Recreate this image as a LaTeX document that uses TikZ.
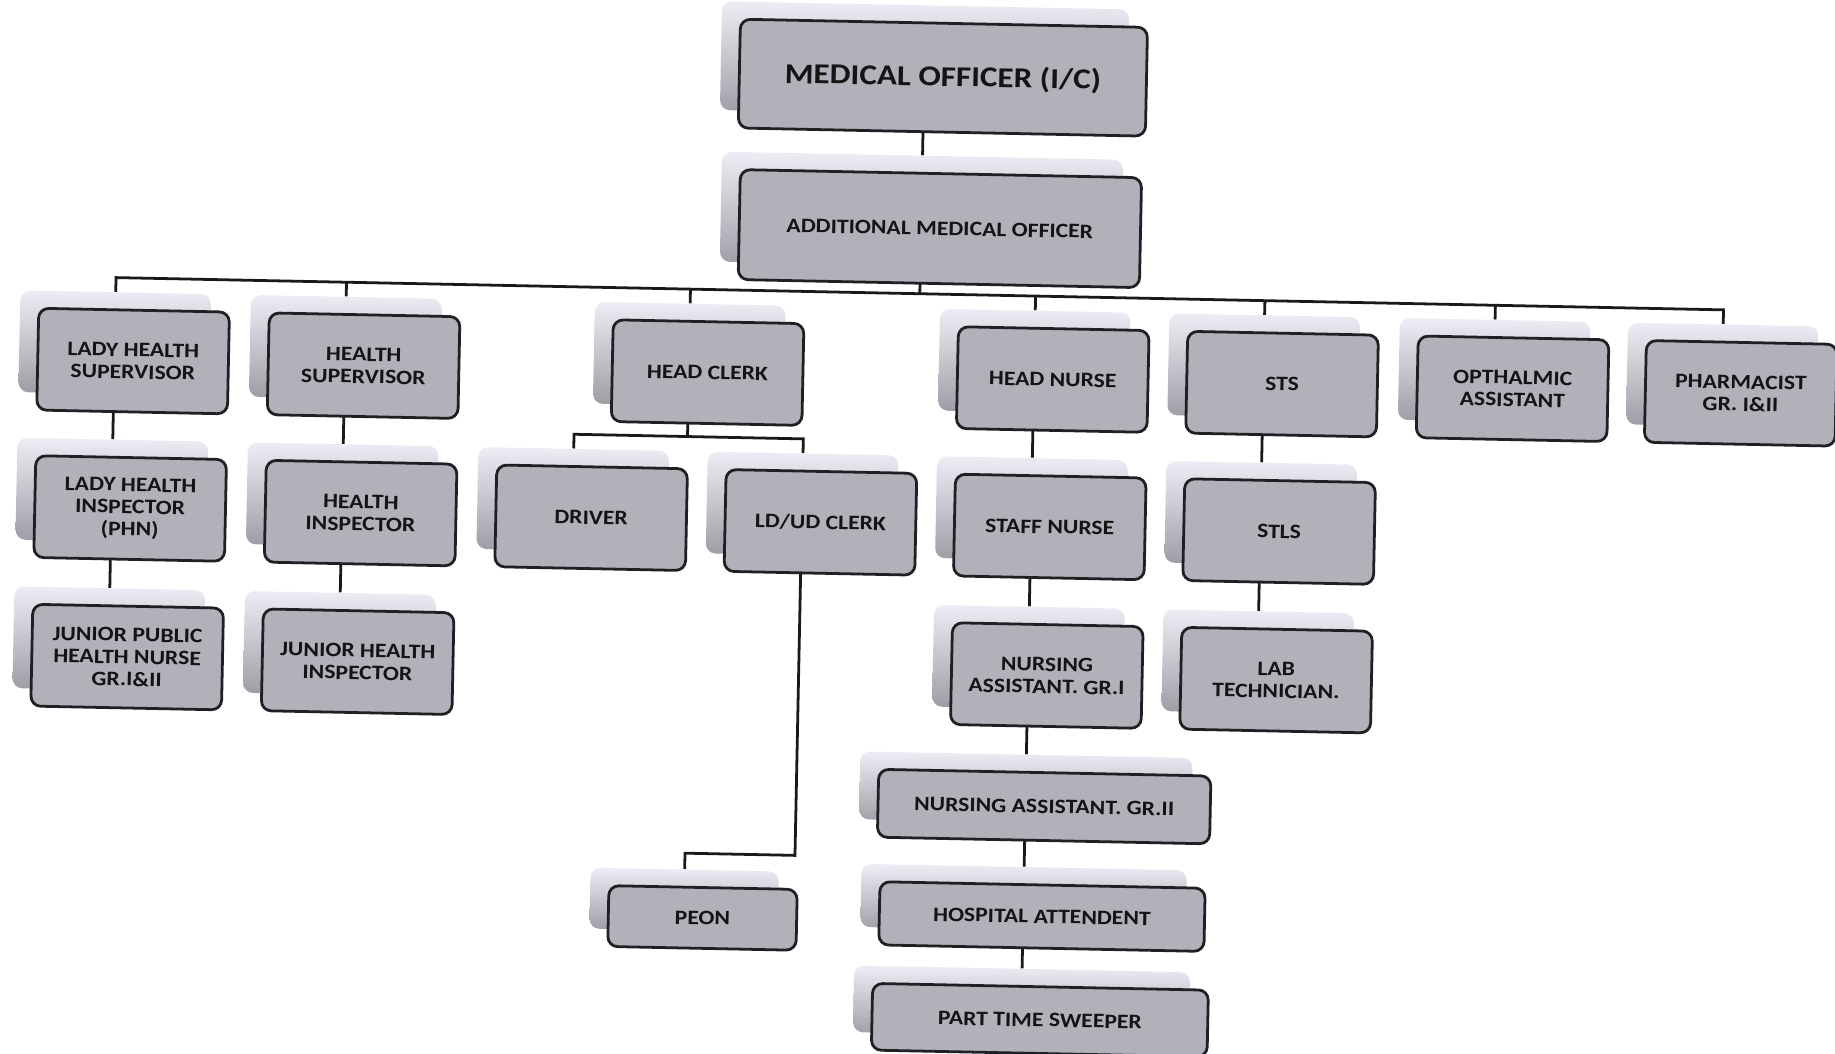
\documentclass[tikz,border=0pt]{standalone}
\usepackage{fontspec}
\setmainfont{Carlito}[FakeStretch=1.15]
\usepackage{tikz}
\usetikzlibrary{calc,backgrounds}

\definecolor{boxgray}{RGB}{178,177,186}
\definecolor{shadetop}{RGB}{238,236,244}
\definecolor{shadebot}{RGB}{156,155,164}
\definecolor{edgegray}{RGB}{32,32,36}

\begin{document}
\begin{tikzpicture}[x=0.02cm,y=-0.02cm]
  \tikzstyle{post}=[draw=edgegray,line width=1.35pt,fill=boxgray,rounded corners=1.7mm,
    minimum width=3.26cm,minimum height=1.74cm,inner sep=0pt,align=center,
    font=\fontsize{10}{10.8}\selectfont\bfseries,text=black!92]
  \tikzstyle{postback}=[draw=none,top color=shadetop,bottom color=shadebot,rounded corners=1.7mm,
    minimum width=3.26cm,minimum height=1.74cm,inner sep=0pt]
  \tikzstyle{link}=[draw=black!90,line width=1.35pt]

  \useasboundingbox (0,0) rectangle (1568,900);

  % the scanned sheet sits a little askew
  \begin{scope}[rotate around={-1.15:(784,450)},transform shape]

  \node[postback,minimum width=6.96cm,minimum height=1.86cm] (smo) at (782,51) {};
  \node[post,minimum width=6.96cm,minimum height=1.86cm,font=\fontsize{14}{15}\selectfont\bfseries]
    (mo) at (798,66) {MEDICAL OFFICER (I/C)};
  \node[postback,minimum width=6.86cm,minimum height=1.88cm] (samo) at (782,180) {};
  \node[post,minimum width=6.86cm,minimum height=1.88cm] (amo) at (798,195) {ADDITIONAL MEDICAL OFFICER};

  \foreach \n/\u/\v/\t in {
      lhs/111/322/{LADY HEALTH\\SUPERVISOR}, hs/308/322/{HEALTH\\SUPERVISOR},
      hc/602/322/{HEAD CLERK}, hn/897/322/{HEAD NURSE}, sts/1093/322/{STS},
      oa/1290/322/{OPTHALMIC\\ASSISTANT}, ph/1485/322/{PHARMACIST\\GR. I\&II},
      lhi/111/448/{LADY HEALTH\\INSPECTOR\\(PHN)}, hi/308/448/{HEALTH\\INSPECTOR},
      drv/505/448/{DRIVER}, ld/701/448/{LD\slash UD CLERK},
      sn/897/448/{STAFF NURSE}, stls/1093/448/{STLS},
      jphn/111/575/{JUNIOR PUBLIC\\HEALTH NURSE\\GR.I\&II}, jhi/308/575/{JUNIOR HEALTH\\INSPECTOR},
      na1/897/575/{NURSING\\ASSISTANT. GR.I}, lab/1093/575/{LAB\\TECHNICIAN.}}
  {
    \node[postback] (s\n) at (\u-16,\v-15) {};
    \node[post] (\n) at (\u,\v) {\t};
  }

  \node[postback,minimum width=5.68cm,minimum height=1.16cm] (sna2) at (881,672) {};
  \node[post,minimum width=5.68cm,minimum height=1.16cm] (na2) at (897,687) {NURSING ASSISTANT. GR.II};
  \node[postback,minimum width=5.56cm,minimum height=1.08cm] (sha) at (881,766) {};
  \node[post,minimum width=5.56cm,minimum height=1.08cm] (ha) at (897,781) {HOSPITAL ATTENDENT};
  \node[postback,minimum width=5.74cm,minimum height=1.14cm] (spts) at (881,854.5) {};
  \node[post,minimum width=5.74cm,minimum height=1.14cm] (pts) at (897,869.5) {PART TIME SWEEPER};
  \node[postback,minimum width=3.22cm,minimum height=1.04cm] (speon) at (591,773) {};
  \node[post,minimum width=3.22cm,minimum height=1.04cm] (peon) at (607,788) {PEON};

  \begin{scope}[on background layer]
    \coordinate (busL) at (95,251);
    \coordinate (busR) at (1469,251);
    \draw[link] (smo) -- (samo) -- ($(busL)!(samo)!(busR)$);
    \draw[link] (slhs) -- (busL) -- (busR) -- (sph);
    \foreach \n in {hs,hc,hn,sts,oa}
      \draw[link] (s\n) -- ($(busL)!(s\n)!(busR)$);
    \draw[link] (slhs) -- (slhi) -- (sjphn);
    \draw[link] (shs) -- (shi) -- (sjhi);
    \draw[link] (shn) -- (ssn) -- (sna1) -- (sna2) -- (sha) -- (spts);
    \draw[link] (ssts) -- (sstls) -- (slab);
    % head clerk branch
    \coordinate (hcL) at (489,377);
    \coordinate (hcR) at (685,377);
    \draw[link] (shc) -- ($(hcL)!(shc)!(hcR)$);
    \draw[link] (sdrv) -- (hcL) -- (hcR) -- (sld);
    \coordinate (pnL) at (591,733);
    \coordinate (pnR) at (685,733);
    \draw[link] (sld) -- (pnR) -- (pnL) -- (speon);
  \end{scope}

  \end{scope}
\end{tikzpicture}
\end{document}
